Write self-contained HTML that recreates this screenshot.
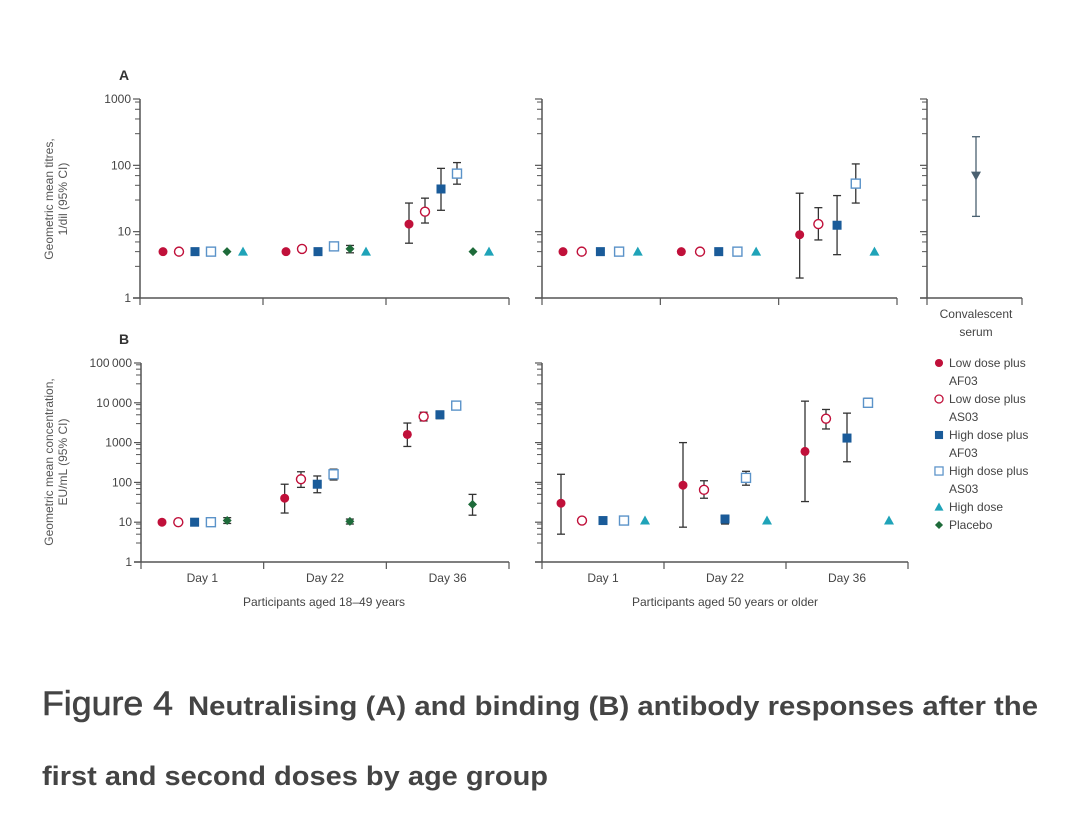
<!DOCTYPE html>
<html><head><meta charset="utf-8">
<style>
html,body{margin:0;padding:0;background:#fff;}
svg{display:block;font-family:"Liberation Sans",sans-serif;}
</style></head>
<body>
<svg id="fig" width="1080" height="813" viewBox="0 0 1080 813" xmlns="http://www.w3.org/2000/svg">
<text x="119" y="80" font-size="14" font-weight="bold" fill="#333">A</text>
<text x="119" y="344" font-size="14" font-weight="bold" fill="#333">B</text>
<text transform="translate(53,199) rotate(-90)" text-anchor="middle" font-size="12" fill="#555">Geometric mean titres,</text>
<text transform="translate(67,199) rotate(-90)" text-anchor="middle" font-size="12" fill="#555">1/dil (95% CI)</text>
<text transform="translate(53,462) rotate(-90)" text-anchor="middle" font-size="12" fill="#555">Geometric mean concentration,</text>
<text transform="translate(67,462) rotate(-90)" text-anchor="middle" font-size="12" fill="#555">EU/mL (95% CI)</text>
<text x="324" y="606" text-anchor="middle" font-size="12" fill="#444">Participants aged 18–49 years</text>
<text x="725" y="606" text-anchor="middle" font-size="12" fill="#444">Participants aged 50 years or older</text>
<text x="976" y="318" text-anchor="middle" font-size="12" fill="#444">Convalescent</text>
<text x="976" y="336" text-anchor="middle" font-size="12" fill="#444">serum</text>
<g id="plots"></g>
<g id="legend"></g>
<text x="42" y="715" font-family="'Liberation Sans Narrow','Liberation Sans',sans-serif" font-size="34" fill="#444" stroke="#444" stroke-width="0.6" textLength="131" lengthAdjust="spacingAndGlyphs">Figure 4</text>
<text x="188" y="715" font-family="'Liberation Sans Narrow','Liberation Sans',sans-serif" font-size="27" font-weight="bold" fill="#444" textLength="850" lengthAdjust="spacingAndGlyphs">Neutralising (A) and binding (B) antibody responses after the</text>
<text x="42" y="785" font-family="'Liberation Sans Narrow','Liberation Sans',sans-serif" font-size="27" font-weight="bold" fill="#444" textLength="506" lengthAdjust="spacingAndGlyphs">first and second doses by age group</text>
</svg>
<script>
const groupKeys = ['lowAF','lowAS','highAF','highAS','high','placebo'];
const groupNames = ['Low dose plus AF03','Low dose plus AS03','High dose plus AF03','High dose plus AS03','High dose','Placebo'];
const days = ['Day 1','Day 22','Day 36'];
// [day][group] = [value, lo, hi]
const aLeftVals = [
 [[5],[5],[5],[5],[5],[5]],
 [[5],[5.5],[5],[6,5.3,6.6],[5],[5.5,4.8,6.2]],
 [[13,6.7,27],[20,13.5,32],[44,21,90],[75,52,110],[5],[5]]
];
const aRightVals = [
 [[5],[5],[5],[5],[5],null],
 [[5],[5],[5],[5],[5],null],
 [[9,2,38],[13,7.5,23],[12.5,4.5,35],[53,27,105],[5],null]
];
const bLeftVals = [
 [[10],[10],[10],[10],null,[11,9.3,13]],
 [[40,17,90],[120,75,185],[90,55,145],[160,115,215],null,[10.5,9,12]],
 [[1600,800,3100],[4500,3500,5800],[5000,4000,6200],[8500,7000,10000],null,[28,15,50]]
];
const bRightVals = [
 [[30,5,160],[11],[11],[11],[11],null],
 [[85,7.5,1000],[65,40,110],[12,9,15],[130,85,190],[11],null],
 [[600,33,11000],[4000,2200,6800],[1300,330,5500],[10000,7800,13000],[11],null]
];
const convalescent = [70,17,270];
const aTicks = [1,10,100,1000];
const aTickLabels = ['1','10','100','1000'];
const bTicks = [1,10,100,1000,10000,100000];
const bTickLabels = ['1','10','100','1000','10\u2009000','100\u2009000'];

const NS='http://www.w3.org/2000/svg';
const plots=document.getElementById('plots');
const COL={lowAF:'#c0103a',lowAS:'#c0103a',highAF:'#1a5b99',highAS:'#5b93c9',high:'#1fa3b8',placebo:'#1e6b3a'};
function mk(tag,attrs,parent){const e=document.createElementNS(NS,tag);for(const k in attrs)e.setAttribute(k,attrs[k]);(parent||plots).appendChild(e);return e;}
function logScale(min,max,y0,y1){const a=Math.log10(min),b=Math.log10(max);return v=>y0+(Math.log10(v)-a)/(b-a)*(y1-y0);}

function marker(key,x,y,parent){
  let e;
  if(key==='lowAF'){e=mk('circle',{cx:x,cy:y,r:4.5,fill:COL.lowAF},parent);}
  else if(key==='lowAS'){e=mk('circle',{cx:x,cy:y,r:4.5,fill:'#fff',stroke:COL.lowAS,'stroke-width':1.4},parent);}
  else if(key==='highAF'){e=mk('rect',{x:x-4.5,y:y-4.5,width:9,height:9,fill:COL.highAF},parent);}
  else if(key==='highAS'){e=mk('rect',{x:x-4.5,y:y-4.5,width:9,height:9,fill:'#fff',stroke:COL.highAS,'stroke-width':1.4},parent);}
  else if(key==='high'){e=mk('polygon',{points:`${x},${y-5} ${x+5},${y+4} ${x-5},${y+4}`,fill:COL.high},parent);}
  else {e=mk('polygon',{points:`${x},${y-4.5} ${x+4.5},${y} ${x},${y+4.5} ${x-4.5},${y}`,fill:COL.placebo},parent);}
  return e;
}

function panel(cfg){
  const g=mk('g',{});
  
  
  const sy=logScale(cfg.min,cfg.max,cfg.yb,cfg.yt);
  const ax='#555';
  mk('line',{x1:cfg.x0,y1:cfg.yt,x2:cfg.x0,y2:cfg.yb,stroke:ax,'stroke-width':1.5},g);
  mk('line',{x1:cfg.x0-7,y1:cfg.yb,x2:cfg.x1,y2:cfg.yb,stroke:ax,'stroke-width':1.5},g);
  cfg.ticks.forEach((t,i)=>{
    const y=sy(t);
    mk('line',{x1:cfg.x0-7,y1:y,x2:cfg.x0,y2:y,stroke:ax,'stroke-width':1.2},g);
    if(cfg.labels){const tx=mk('text',{x:cfg.x0-9,y:y+4,'text-anchor':'end','font-size':12,fill:'#444'},g);tx.textContent=cfg.labels[i];}
    if(i<cfg.ticks.length-1){[3,5,7,9].forEach(m=>{const yy=sy(t*m);mk('line',{x1:cfg.x0-5,y1:yy,x2:cfg.x0,y2:yy,stroke:ax,'stroke-width':1},g);});}
  });
  const n=cfg.ngroups;
  const gw=(cfg.x1-cfg.x0)/n;
  for(let i=0;i<=n;i++){const x=cfg.x0+i*gw;mk('line',{x1:x,y1:cfg.yb,x2:x,y2:cfg.yb+7,stroke:ax,'stroke-width':1.2},g);}
  if(cfg.dayLabels){days.forEach((d,i)=>{const t=mk('text',{x:cfg.x0+(i+0.5)*gw,y:cfg.yb+20,'text-anchor':'middle','font-size':12,fill:'#444'},g);t.textContent=d;});}
  if(cfg.data){
    cfg.data.forEach((row,di)=>{
      row.forEach((v,gi)=>{
        if(!v)return;
        const x=cfg.x0+di*gw+cfg.off+cfg.slots[gi]*cfg.step;
        if(v.length===3){
          const yl=sy(v[1]),yh=sy(v[2]);
          mk('line',{x1:x,y1:yl,x2:x,y2:yh,stroke:'#333','stroke-width':1.3},g);
          mk('line',{x1:x-4,y1:yl,x2:x+4,y2:yl,stroke:'#333','stroke-width':1.3},g);
          mk('line',{x1:x-4,y1:yh,x2:x+4,y2:yh,stroke:'#333','stroke-width':1.3},g);
        }
        const m=marker(groupKeys[gi],x,sy(v[0]),g);
        
        
      });
    });
  }
  return {g,sy};
}

const leftSlots=[0,1,2,3,5,4];
const rightSlots=[0,1,2,3,4,5];
panel({name:'panel-a-left',x0:140,x1:509,yt:99,yb:298,min:1,max:1000,ticks:aTicks,labels:aTickLabels,ngroups:3,off:23,step:16,slots:leftSlots,data:aLeftVals,dayLabels:false});
panel({name:'panel-a-right',x0:542,x1:897,yt:99,yb:298,min:1,max:1000,ticks:aTicks,labels:null,ngroups:3,off:21,step:18.7,slots:rightSlots,data:aRightVals,dayLabels:false});
const conv=panel({name:'panel-a-convalescent',x0:927,x1:1022,yt:99,yb:298,min:1,max:1000,ticks:aTicks,labels:null,ngroups:1,off:0,step:0,slots:rightSlots,data:null,dayLabels:false});
(function(){
  const x=976,sy=conv.sy,g=conv.g;
  const yl=sy(convalescent[1]),yh=sy(convalescent[2]),y=sy(convalescent[0]);
  mk('line',{x1:x,y1:yl,x2:x,y2:yh,stroke:'#4a6070','stroke-width':1.3},g);
  mk('line',{x1:x-4,y1:yl,x2:x+4,y2:yl,stroke:'#4a6070','stroke-width':1.3},g);
  mk('line',{x1:x-4,y1:yh,x2:x+4,y2:yh,stroke:'#4a6070','stroke-width':1.3},g);
  const p=mk('polygon',{points:`${x-5},${y-4} ${x+5},${y-4} ${x},${y+5}`,fill:'#4a6070'},g);
  
  
})();
panel({name:'panel-b-left',x0:141,x1:509,yt:363,yb:562,min:1,max:100000,ticks:bTicks,labels:bTickLabels,ngroups:3,off:21,step:16.3,slots:leftSlots,data:bLeftVals,dayLabels:true});
panel({name:'panel-b-right',x0:542,x1:908,yt:363,yb:562,min:1,max:100000,ticks:bTicks,labels:null,ngroups:3,off:19,step:21,slots:rightSlots,data:bRightVals,dayLabels:true});

const lg=document.getElementById('legend');
const legendLines=[['Low dose plus','AF03'],['Low dose plus','AS03'],['High dose plus','AF03'],['High dose plus','AS03'],['High dose'],['Placebo']];
let ly=363;
groupKeys.forEach((k,i)=>{
  const e=mk('g',{},lg);
  
  
  marker(k,939,ly,e).setAttribute('transform','translate(939,'+ly+') scale(0.9) translate(-939,'+(-ly)+')');
  legendLines[i].forEach((t,j)=>{const tx=mk('text',{x:949,y:ly+4+j*18,'font-size':12,fill:'#444'},e);tx.textContent=t;});
  ly+=legendLines[i].length*18;
});
</script>
</body></html>
